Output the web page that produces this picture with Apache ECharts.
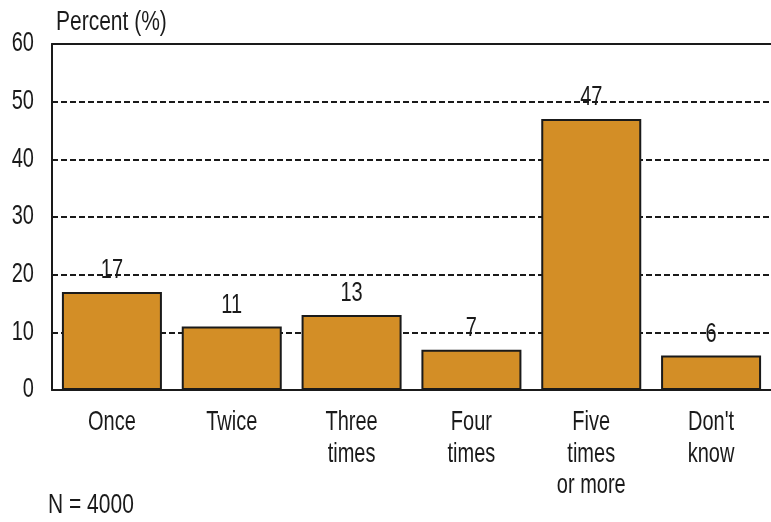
<!DOCTYPE html>
<html>
<head>
<meta charset="utf-8">
<script src="https://cdn.jsdelivr.net/npm/echarts@6/dist/echarts.min.js"></script>
<style>
  html, body { margin: 0; padding: 0; background: #fff; }
  #chart { width: 771px; height: 522px; }
</style>
</head>
<body>
<div id="chart"></div>
<script>
// How often: share of respondents (%)
const categories = ['Once', 'Twice', 'Three\ntimes', 'Four\ntimes', 'Five\ntimes\nor more', "Don't\nknow"];
const percentValues = [17, 11, 13, 7, 47, 6];
const yTickValues = [0, 10, 20, 30, 40, 50, 60];
const axisTitle = 'Percent (%)';
const sampleNote = 'N = 4000';

const FONT = '"Liberation Sans", Arial, sans-serif';
const INK = '#1a1a1a';
const FS = 20;
const TALL = 1.35;   // type is set tall and narrow

const chart = echarts.init(document.getElementById('chart'), null, { renderer: 'canvas' });

chart.setOption({
  animation: false,
  backgroundColor: '#ffffff',
  grid: { left: 52, right: -1, top: 44, bottom: 132, containLabel: false },
  xAxis: [
    {
      type: 'category',
      data: categories,
      axisLine: { show: true, lineStyle: { color: INK, width: 2 } },
      axisTick: { show: false },
      axisLabel: { show: false }
    },
    {
      // solid frame line along the top of the plot
      type: 'category',
      position: 'top',
      data: categories,
      axisLine: { show: true, lineStyle: { color: INK, width: 2 } },
      axisTick: { show: false },
      axisLabel: { show: false }
    }
  ],
  yAxis: {
    type: 'value',
    min: yTickValues[0], max: yTickValues[yTickValues.length - 1], interval: 10,
    axisLine: { show: true, lineStyle: { color: INK, width: 2 } },
    axisTick: { show: false },
    axisLabel: { show: false },
    splitLine: { show: true, lineStyle: { color: INK, width: 2, type: [6, 3] } }
  },
  series: [{
    type: 'bar',
    data: percentValues,
    barWidth: 100,
    itemStyle: { color: '#D38E26', borderColor: INK, borderWidth: 2 },
    label: { show: false }
  }]
});

// Tall text: each label is a text element stretched vertically about its anchor.
function tallText(x, y, text, align, vAlign, extra) {
  return {
    type: 'text',
    x: x, y: y,
    scaleY: TALL,
    silent: true,
    z: 100,
    style: Object.assign({
      text: text, x: 0, y: 0,
      fontFamily: FONT, fontSize: FS, fill: INK,
      align: align, verticalAlign: vAlign
    }, extra || {})
  };
}

const texts = [];
const axisX = chart.convertToPixel({ yAxisIndex: 0 }, 0);
const leftX = chart.convertToPixel({ xAxisIndex: 0 }, categories[0]) - 60;

// y-axis tick labels
yTickValues.forEach(function (v) {
  const py = chart.convertToPixel({ yAxisIndex: 0 }, v);
  texts.push(tallText(leftX - 18, py, String(v), 'right', 'middle'));
});

// category labels and value labels
categories.forEach(function (c, i) {
  const px = chart.convertToPixel({ xAxisIndex: 0 }, c);
  texts.push(tallText(px, axisX + 17.5, c, 'center', 'top', { lineHeight: 23 }));
  const top = chart.convertToPixel({ yAxisIndex: 0 }, percentValues[i]);
  texts.push(tallText(px, top - 21, String(percentValues[i]), 'center', 'middle'));
});

// axis title and sample size note
texts.push(tallText(56, 22, axisTitle, 'left', 'middle', { fontSize: 21 }));
texts.push(tallText(48, 505, sampleNote, 'left', 'middle', { fontSize: 21 }));

chart.setOption({ graphic: texts });
</script>
</body>
</html>
